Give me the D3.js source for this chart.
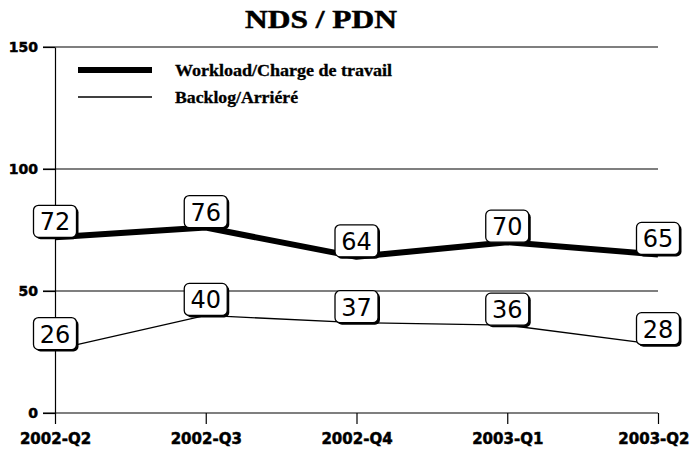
<!DOCTYPE html>
<html>
<head>
<meta charset="utf-8">
<script src="https://cdn.jsdelivr.net/npm/d3@7"></script>
<style>
  html, body { margin: 0; padding: 0; background: #fff; }
  svg { display: block; }
</style>
</head>
<body>
<svg id="chart" width="690" height="451"></svg>
<script>
// Quarterly figures
const quarters = ["2002-Q2", "2002-Q3", "2002-Q4", "2003-Q1", "2003-Q2"];
const workload = [72, 76, 64, 70, 65];
const backlog = [26, 40, 37, 36, 28];
const yTicks = [0, 50, 100, 150];
const seriesNames = ["Workload/Charge de travail", "Backlog/Arriéré"];

const svg = d3.select("#chart");
const plotLeft = 55, plotRight = 658, plotTop = 47, plotBottom = 413;

const x = d3.scalePoint().domain(quarters).range([plotLeft, plotRight]);
const y = d3.scaleLinear().domain([0, 150]).range([plotBottom, plotTop]);

// Title
svg.append("text")
  .attr("x", 245).attr("y", 28)
  .attr("font-family", "Liberation Serif, Times New Roman, serif")
  .attr("font-weight", "bold")
  .attr("font-size", 26)
  .attr("textLength", 152)
  .attr("lengthAdjust", "spacingAndGlyphs")
  .attr("stroke", "#000").attr("stroke-width", 0.5)
  .text("NDS / PDN");

// Horizontal grid lines
svg.append("g").selectAll("line")
  .data(yTicks)
  .join("line")
  .attr("x1", plotLeft - 12).attr("x2", plotRight)
  .attr("y1", d => y(d)).attr("y2", d => y(d))
  .attr("stroke", "#000").attr("stroke-width", 1.2);

// Y axis
const yAxis = svg.append("g")
  .attr("transform", `translate(${plotLeft},0)`)
  .call(d3.axisLeft(y).tickValues(yTicks).tickSize(12).tickSizeOuter(0));
yAxis.select(".domain").attr("stroke", "#000").attr("stroke-width", 1.2);
yAxis.selectAll(".tick line").attr("stroke-width", 1.2);
yAxis.selectAll(".tick text")
  .attr("x", -17)
  .attr("font-family", "DejaVu Sans, sans-serif")
  .attr("font-weight", "bold")
  .attr("font-size", 14)
  .attr("stroke", "#000").attr("stroke-width", 0.5)
  .attr("fill", "#000");

// X axis
const xAxis = svg.append("g")
  .attr("transform", `translate(0,${plotBottom})`)
  .call(d3.axisBottom(x).tickSize(11).tickSizeOuter(0));
xAxis.select(".domain").remove();
xAxis.selectAll(".tick line").attr("stroke-width", 1.2);
xAxis.selectAll(".tick text")
  .attr("y", 20)
  .attr("font-family", "DejaVu Sans, sans-serif")
  .attr("font-weight", "bold")
  .attr("font-size", 15)
  .attr("stroke", "#000").attr("stroke-width", 0.5)
  .attr("fill", "#000");
// the last quarter's label is pulled in so it stays on the page
xAxis.selectAll(".tick text")
  .filter(d => d === quarters[quarters.length - 1])
  .attr("text-anchor", "end")
  .attr("x", 31);

// Lines
const line = d3.line().x((d, i) => x(quarters[i])).y(d => y(d));
svg.append("path").datum(backlog)
  .attr("d", line).attr("fill", "none")
  .attr("stroke", "#000").attr("stroke-width", 1.3);
svg.append("path").datum(workload)
  .attr("d", line).attr("fill", "none")
  .attr("stroke", "#000").attr("stroke-width", 6)
  .attr("stroke-linejoin", "round");

// Value labels in shadowed rounded boxes, sitting on each point
function labels(values) {
  const g = svg.append("g").selectAll("g")
    .data(values)
    .join("g")
    .attr("transform", (d, i) => `translate(${x(quarters[i])},${y(d)})`);
  const w = 43, h = 32;
  g.append("rect")
    .attr("x", -w / 2 + 2).attr("y", -h + 2)
    .attr("width", w).attr("height", h)
    .attr("rx", 5).attr("fill", "#000");
  g.append("rect")
    .attr("x", -w / 2).attr("y", -h)
    .attr("width", w).attr("height", h)
    .attr("rx", 5).attr("fill", "#fff")
    .attr("stroke", "#000").attr("stroke-width", 1.3);
  g.append("text")
    .attr("x", 0).attr("y", -h / 2 + 9)
    .attr("text-anchor", "middle")
    .attr("font-family", "DejaVu Sans, sans-serif")
    .attr("font-size", 24)
    .attr("fill", "#000")
    .text(d => d);
}
labels(workload);
labels(backlog);

// Legend
const legend = svg.append("g");
const legendWidths = [217, 123];
[6, 1.3].forEach((sw, i) => {
  const ly = 70 + i * 27;
  legend.append("line")
    .attr("x1", 78).attr("x2", 152)
    .attr("y1", ly).attr("y2", ly)
    .attr("stroke", "#000").attr("stroke-width", sw);
  legend.append("text")
    .attr("x", 175).attr("y", ly + 6)
    .attr("font-family", "Liberation Serif, Times New Roman, serif")
    .attr("font-weight", "bold")
    .attr("font-size", 16)
    .attr("textLength", legendWidths[i])
    .attr("lengthAdjust", "spacingAndGlyphs")
    .attr("stroke", "#000").attr("stroke-width", 0.3)
    .text(seriesNames[i]);
});
</script>
</body>
</html>
